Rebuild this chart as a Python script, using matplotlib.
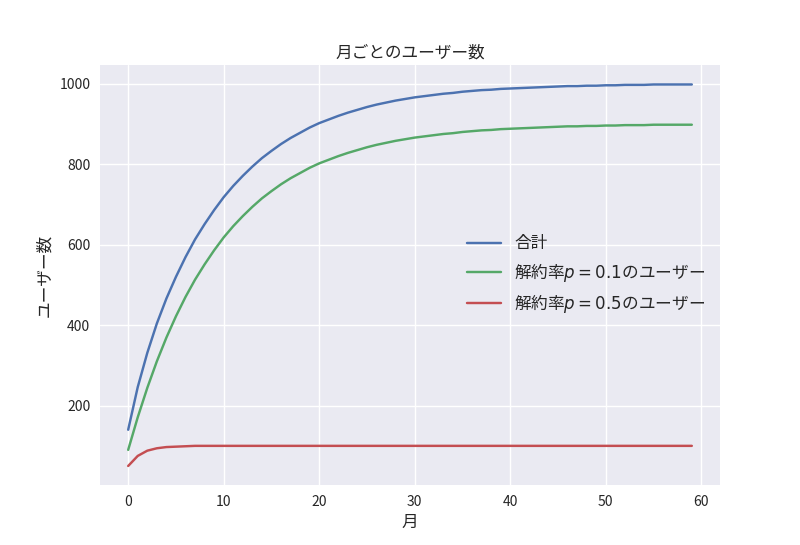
import matplotlib
matplotlib.use("Agg")
import matplotlib.pyplot as plt
import numpy as np

plt.style.use("seaborn-v0_8")
plt.rcParams['font.family'] = ['Noto Sans CJK JP', 'DejaVu Sans']

months = np.arange(60)

# users with churn rate p = 0.1
users_p01 = [90, 171, 244, 310, 369, 422, 470, 513, 551, 586,
             618, 646, 671, 694, 715, 733, 750, 765, 778, 791,
             802, 811, 820, 828, 835, 842, 848, 853, 858, 862,
             866, 869, 872, 875, 877, 880, 882, 884, 885, 887,
             888, 889, 890, 891, 892, 893, 894, 894, 895, 895,
             896, 896, 897, 897, 897, 898, 898, 898, 898, 898]

# users with churn rate p = 0.5
users_p05 = [50, 75, 88, 94, 97, 98, 99] + [100] * 53

total = [140, 246, 331, 404, 466, 520, 569, 613, 651, 686,
         718, 746, 771, 794, 815, 833, 850, 865, 878, 891,
         902, 911, 920, 928, 935, 942, 948, 953, 958, 962,
         966, 969, 972, 975, 977, 980, 982, 984, 985, 987,
         988, 989, 990, 991, 992, 993, 994, 994, 995, 995,
         996, 996, 997, 997, 997, 998, 998, 998, 998, 998]

fig = plt.figure(figsize=(8, 5.45), dpi=100)
ax = fig.add_subplot(111)
ax.plot(months, total, label="合計")
ax.plot(months, users_p01, label="解約率$p=0.1$のユーザー")
ax.plot(months, users_p05, label="解約率$p=0.5$のユーザー")
ax.set_title("月ごとのユーザー数")
ax.set_xlabel("月", fontsize=12)
ax.set_ylabel("ユーザー数", fontsize=12)
ax.set_yticks([200, 400, 600, 800, 1000])
ax.legend(loc="center right", fontsize=12)
fig.savefig("out.png")
